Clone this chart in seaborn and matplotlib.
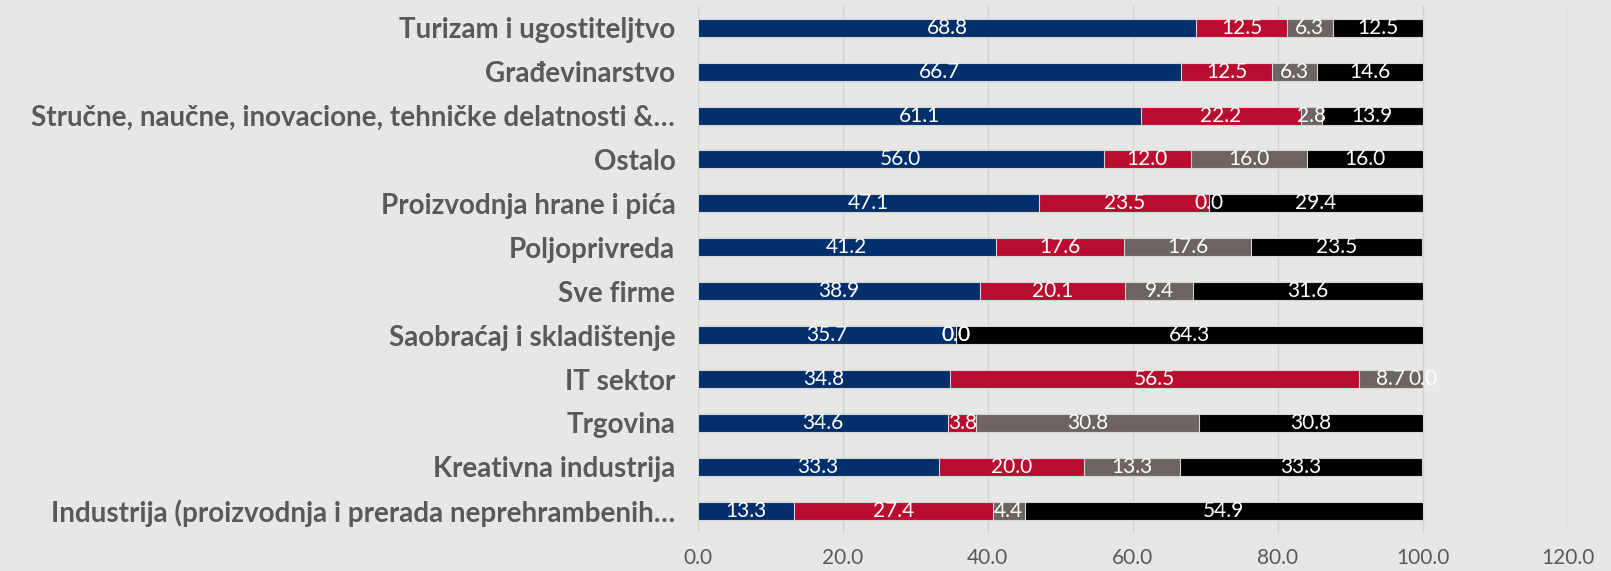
import numpy as np
import pandas as pd
import seaborn as sns
import matplotlib.pyplot as plt

# categories (top to bottom)
sectors = [
    'Turizam i ugostiteljtvo',
    'Građevinarstvo',
    'Stručne, naučne, inovacione, tehničke delatnosti &…',
    'Ostalo',
    'Proizvodnja hrane i pića',
    'Poljoprivreda',
    'Sve firme',
    'Saobraćaj i skladištenje',
    'IT sektor',
    'Trgovina',
    'Kreativna industrija',
    'Industrija (proizvodnja i prerada neprehrambenih…',
]
s1 = [68.8, 66.7, 61.1, 56.0, 47.1, 41.2, 38.9, 35.7, 34.8, 34.6, 33.3, 13.3]
s2 = [12.5, 12.5, 22.2, 12.0, 23.5, 17.6, 20.1, 0.0, 56.5, 3.8, 20.0, 27.4]
s3 = [6.3, 6.3, 2.8, 16.0, 0.0, 17.6, 9.4, 0.0, 8.7, 30.8, 13.3, 4.4]
s4 = [12.5, 14.6, 13.9, 16.0, 29.4, 23.5, 31.6, 64.3, 0.0, 30.8, 33.3, 54.9]
colors = ['#002F6C', '#BA0C2F', '#6C6463', '#000000']

bg = '#E7E7E5'
sns.set_style('white')
plt.rcParams['font.family'] = ['Lato', 'DejaVu Sans']

series = np.array([s1, s2, s3, s4])
cum = np.cumsum(series, axis=0)

fig = plt.figure(figsize=(16.11, 5.71), dpi=100, facecolor=bg)
ax = fig.add_axes([0.433, 0.067, 0.54, 0.923])
ax.set_facecolor(bg)

# draw cumulative layers back to front to get stacked bars
for i in range(3, -1, -1):
    df = pd.DataFrame({'sector': sectors, 'val': cum[i]})
    sns.barplot(data=df, x='val', y='sector', color=colors[i], orient='h',
                width=0.41, edgecolor='#d4d4d4', linewidth=0.8, ax=ax,
                saturation=1)

# segment labels
for i in range(4):
    for j in range(len(sectors)):
        v = series[i, j]
        start = cum[i, j] - v
        ax.text(start + v / 2, j, f'{v:.1f}', ha='center', va='center',
                color='white', fontsize=15)

ax.set_xlim(0, 120)
ax.set_xticks(np.arange(0, 121, 20))
ax.set_xticklabels([f'{t:.1f}' for t in np.arange(0, 121, 20)])
ax.set_ylim(len(sectors) - 0.5, -0.5)
ax.grid(axis='x', color='#d2d2d2', linewidth=1)
ax.set_axisbelow(True)
for sp in ax.spines.values():
    sp.set_visible(False)
ax.set_xlabel('')
ax.set_ylabel('')
ax.tick_params(axis='x', colors='#595959', labelsize=15, length=0, pad=11)
ax.tick_params(axis='y', length=0, pad=16)
for lab in ax.get_yticklabels():
    lab.set_fontsize(20)
    lab.set_fontweight('bold')
    lab.set_color('#595959')

fig.savefig('out.png', dpi=100, facecolor=bg)
